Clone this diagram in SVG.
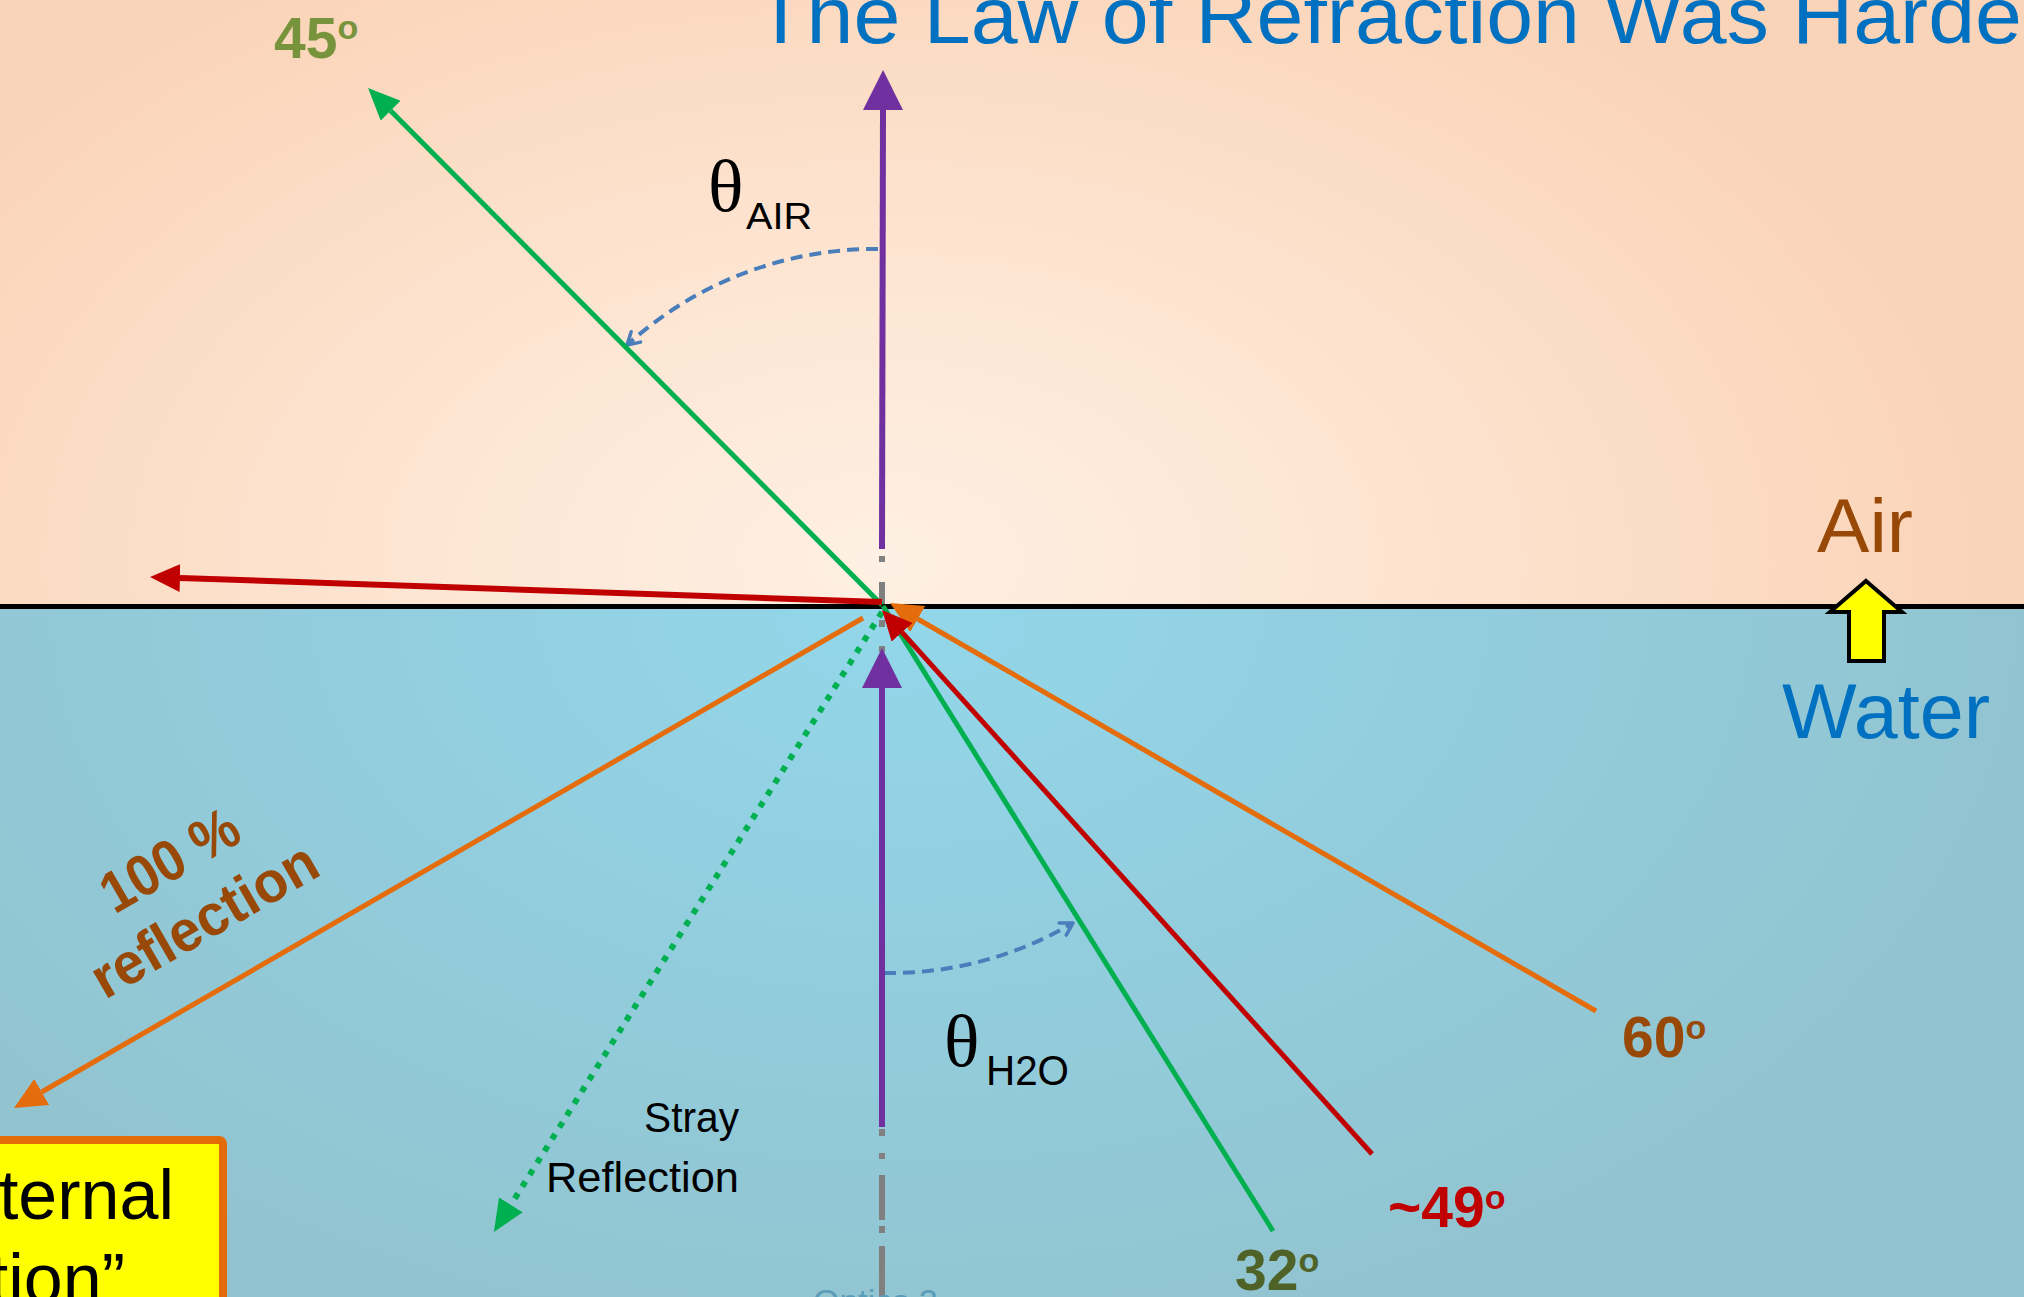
<svg xmlns="http://www.w3.org/2000/svg" width="2024" height="1297" viewBox="0 0 2024 1297">
<style>
.sans{font-family:"Liberation Sans",Arial,sans-serif}
.serif{font-family:"Liberation Serif","Times New Roman",serif}
.deg{font-family:"Liberation Sans",Arial,sans-serif;font-weight:bold;font-size:57px}
.ray{fill:none;stroke-linecap:butt}
.arc{fill:none;stroke:#4A7EBB;stroke-width:4;stroke-dasharray:12 7}
</style>
<defs>
<radialGradient id="air" gradientUnits="userSpaceOnUse" cx="880" cy="560" r="1100" gradientTransform="translate(880 560) scale(1 0.62) translate(-880 -560)">
<stop offset="0" stop-color="#FEF0E4"/>
<stop offset="0.45" stop-color="#FDE5D2"/>
<stop offset="1" stop-color="#FAD4B8"/>
</radialGradient>
<radialGradient id="water" gradientUnits="userSpaceOnUse" cx="900" cy="610" r="1150" gradientTransform="translate(900 610) scale(1 0.65) translate(-900 -610)">
<stop offset="0" stop-color="#93D7EA"/>
<stop offset="0.5" stop-color="#92CDDD"/>
<stop offset="1" stop-color="#92C4D0"/>
</radialGradient>
<marker id="mPurple" markerUnits="userSpaceOnUse" viewBox="0 0 40 40" markerWidth="40" markerHeight="40" refX="0" refY="20" orient="auto"><path d="M0,0 L40,20 L0,40 z" fill="#7030A0"/></marker>
<marker id="mGreen" markerUnits="userSpaceOnUse" viewBox="0 0 32 28" markerWidth="32" markerHeight="28" refX="0" refY="14" orient="auto"><path d="M0,0 L32,14 L0,28 z" fill="#00B050"/></marker>
<marker id="mRed" markerUnits="userSpaceOnUse" viewBox="0 0 30 28" markerWidth="30" markerHeight="28" refX="0" refY="14" orient="auto"><path d="M0,0 L30,14 L0,28 z" fill="#C00000"/></marker>
<marker id="mOrange" markerUnits="userSpaceOnUse" viewBox="0 0 32 30" markerWidth="32" markerHeight="30" refX="0" refY="15" orient="auto"><path d="M0,0 L32,15 L0,30 z" fill="#E46C0A"/></marker>
<marker id="mBlue" markerUnits="userSpaceOnUse" viewBox="0 0 18 18" markerWidth="18" markerHeight="18" refX="15" refY="9" orient="auto"><path d="M3,2 L15,9 L3,16" fill="none" stroke="#4A7EBB" stroke-width="3.5" stroke-linecap="round" stroke-linejoin="round"/></marker>
</defs>

<g id="background">
<rect x="0" y="0" width="2024" height="607" fill="url(#air)"/>
<rect x="0" y="606" width="2024" height="691" fill="url(#water)"/>
<line x1="0" y1="606.5" x2="2024" y2="606.5" stroke="#000" stroke-width="5"/>
</g>

<g id="title">
<text class="sans" x="755" y="43" font-size="80" fill="#0070C0" textLength="1267" lengthAdjust="spacingAndGlyphs">The Law of Refraction Was Harde</text>
</g>

<g id="connectors">
<path id="normal" d="M882 556V562M882 582V604M882 620V627M882 646V652M882 1129V1136M882 1153V1159M882 1175V1220M882 1226V1233M882 1246V1297" stroke="#808080" stroke-width="6" fill="none"/>
<path id="arc-air" class="arc" d="M878 249 A370 370 0 0 0 627 345" marker-end="url(#mBlue)"/>
<path id="arc-water" class="arc" d="M884 973 A360 360 0 0 0 1073 923" marker-end="url(#mBlue)"/>
<line id="ray-green-45" class="ray" x1="882" y1="605" x2="390.6" y2="110.7" stroke="#00B050" stroke-width="5" marker-end="url(#mGreen)"/>
<line id="ray-green-32" class="ray" x1="1273" y1="1231" x2="883" y2="606" stroke="#00B050" stroke-width="5"/>
<line id="ray-green-stray" class="ray" x1="882" y1="612" x2="510.9" y2="1204.8" stroke="#00B050" stroke-width="6" stroke-dasharray="6 8" marker-end="url(#mGreen)"/>
<line id="ray-orange-out" class="ray" x1="863" y1="618" x2="41.7" y2="1092" stroke="#E46C0A" stroke-width="5" marker-end="url(#mOrange)"/>
<line id="ray-red-left" class="ray" x1="882" y1="602" x2="180" y2="578" stroke="#C00000" stroke-width="6" marker-end="url(#mRed)"/>
<line id="ray-orange-in" class="ray" x1="1596" y1="1011" x2="917.7" y2="619" stroke="#E46C0A" stroke-width="5" marker-end="url(#mOrange)"/>
<line id="ray-red-in" class="ray" x1="1372" y1="1154" x2="902.1" y2="632.3" stroke="#C00000" stroke-width="5" marker-end="url(#mRed)"/>
<line id="ray-purple-air" class="ray" x1="882" y1="549" x2="883" y2="110" stroke="#7030A0" stroke-width="6" marker-end="url(#mPurple)"/>
<line id="ray-purple-water" class="ray" x1="882" y1="1127" x2="882" y2="688" stroke="#7030A0" stroke-width="6" marker-end="url(#mPurple)"/>
</g>

<g id="label-45">
<text class="deg" x="274" y="58" font-size="55" fill="#77933C">45<tspan font-size="34" dy="-19">o</tspan></text>
</g>
<g id="label-theta-air">
<text class="serif" x="708" y="211" font-size="74" fill="#000">θ</text>
<text class="sans" x="746" y="229" font-size="37" fill="#000" textLength="66" lengthAdjust="spacingAndGlyphs">AIR</text>
</g>
<g id="label-theta-h2o">
<text class="serif" x="944" y="1066" font-size="74" fill="#000">θ</text>
<text class="sans" x="986" y="1085" font-size="42" fill="#000" textLength="83" lengthAdjust="spacingAndGlyphs">H2O</text>
</g>
<g id="label-air">
<text class="sans" x="1817" y="552" font-size="76" fill="#984807" textLength="96" lengthAdjust="spacingAndGlyphs">Air</text>
</g>
<g id="arrow-up">
<polygon points="1866,581 1902,612 1884,612 1884,661 1849,661 1849,612 1830,612" fill="#FFFF00" stroke="#000" stroke-width="4" stroke-linejoin="miter"/>
</g>
<g id="label-water">
<text class="sans" x="1782" y="738" font-size="77" fill="#0070C0" textLength="208" lengthAdjust="spacingAndGlyphs">Water</text>
</g>
<g id="label-60">
<text class="deg" x="1622" y="1057" fill="#984807">60<tspan font-size="34" dy="-18">o</tspan></text>
</g>
<g id="label-49">
<text class="deg" x="1388" y="1227" fill="#C00000">~49<tspan font-size="34" dy="-18">o</tspan></text>
</g>
<g id="label-32">
<text class="deg" x="1235" y="1290" fill="#4F6228">32<tspan font-size="34" dy="-18">o</tspan></text>
</g>
<g id="label-stray">
<text class="sans" x="739" y="1132" font-size="42" fill="#000" text-anchor="end" textLength="95" lengthAdjust="spacingAndGlyphs">Stray</text>
<text class="sans" x="739" y="1192" font-size="42" fill="#000" text-anchor="end" textLength="193" lengthAdjust="spacingAndGlyphs">Reflection</text>
</g>
<g id="label-100" transform="translate(214 937) rotate(-30)">
<text class="sans" x="0" y="-69" font-size="58" font-weight="bold" fill="#984807" text-anchor="middle" textLength="150" lengthAdjust="spacingAndGlyphs">100 %</text>
<text class="sans" x="0" y="0" font-size="58" font-weight="bold" fill="#984807" text-anchor="middle" textLength="252" lengthAdjust="spacingAndGlyphs">reflection</text>
</g>
<g id="tir-box">
<rect x="-20" y="1140" width="243" height="200" rx="4" fill="#FFFF00" stroke="#E36C09" stroke-width="8"/>
<text class="sans" x="174" y="1219" font-size="70" fill="#000" text-anchor="end">ternal</text>
<text class="sans" x="125" y="1303" font-size="70" fill="#000" text-anchor="end">tion”</text>
</g>
<g id="footer">
<text class="sans" x="813" y="1313" font-size="34" fill="#5A9DB8">Optics 2</text>
</g>
</svg>
